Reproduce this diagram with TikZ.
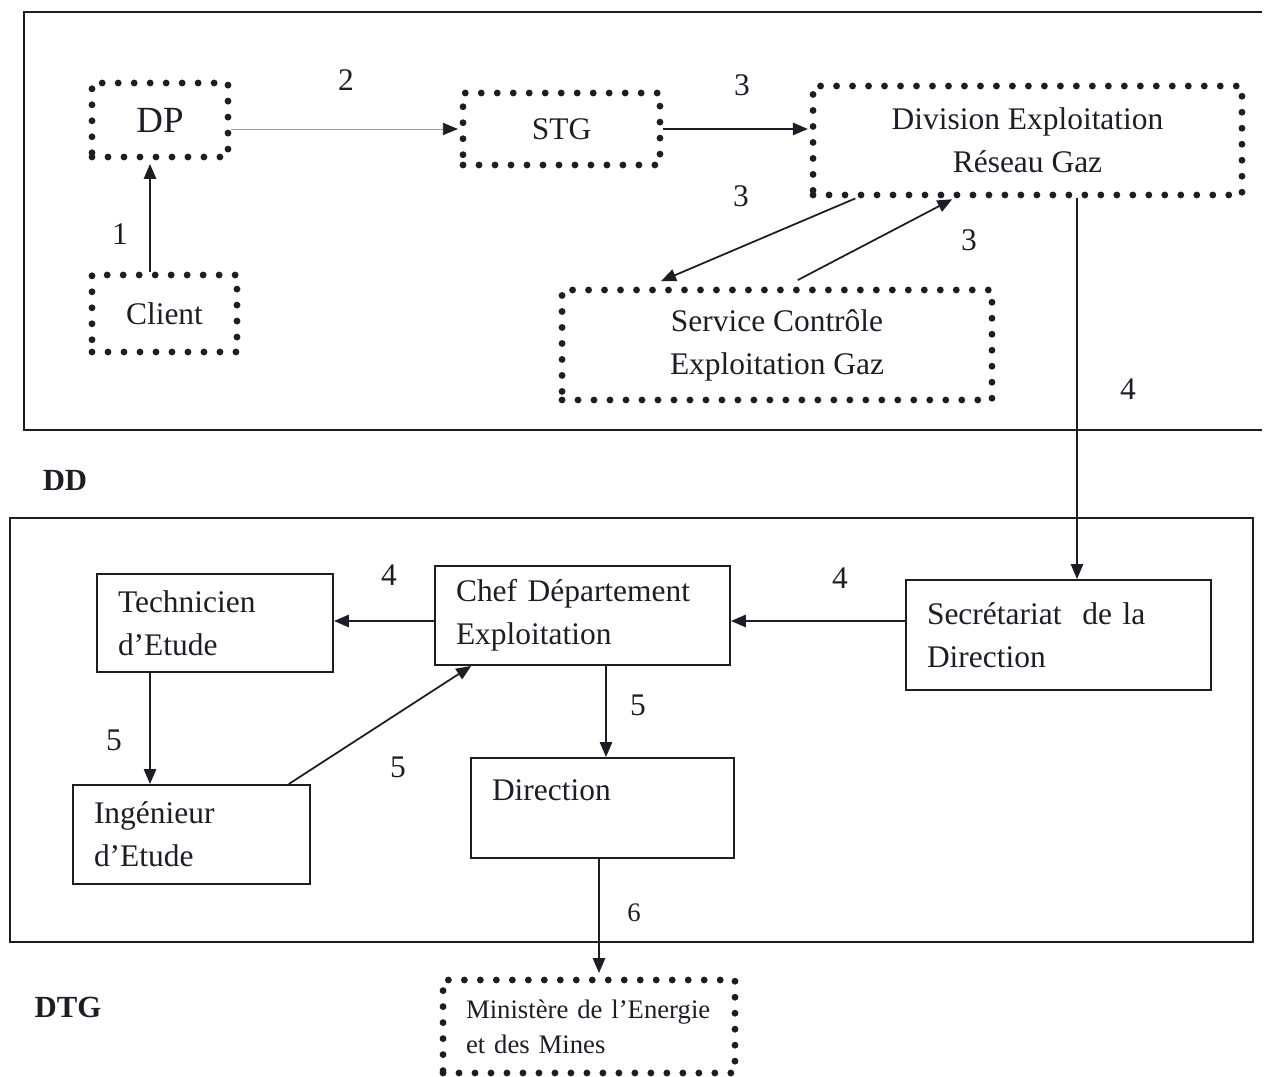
\documentclass[tikz,border=0pt]{standalone}
\usepackage{fontspec}
\setmainfont{Liberation Serif}
\usetikzlibrary{arrows.meta,calc}
\definecolor{ink}{RGB}{28,30,38}
\newcommand\dfMain{\fontsize{17.9}{24.4}\selectfont}
\newcommand\dfBig{\fontsize{21}{24}\selectfont}
\newcommand\dfSmall{\fontsize{15.2}{20}\selectfont}
\newcommand\dfHead{\fontsize{17.5}{20}\selectfont\bfseries}
\begin{document}
\begin{tikzpicture}[x=0.02cm,y=-0.02cm,
  every node/.style={text=ink},
  dotbox/.style={draw=ink, line width=3.9pt, line cap=round,
    dash pattern=on 0pt off 9.1pt, inner sep=0pt, align=center, font=\dfMain},
  solidbox/.style={draw=ink, line width=1.1pt, inner xsep=0.42cm,
    inner ysep=0pt, align=left, font=\dfMain},
  frame/.style={draw=ink, line width=1.5pt},
  arr/.style={draw=ink, line width=1pt, -{Triangle[length=8.5pt,width=7pt]}},
  thinarr/.style={draw=ink!45, line width=0.45pt, -{Triangle[length=8.5pt,width=7pt,color=ink]}},
  num/.style={font=\dfMain, inner sep=0pt},
  head/.style={font=\dfHead, inner sep=0pt}]
\useasboundingbox (0,0) rectangle (1270,1077);

% frames of the two departments
\draw[frame] (1262,12) -- (24,12) -- (24,430) -- (1262,430);
\draw[frame] (10,518) rectangle (1253,942);
\node[head] (dd) at (65,480) {DD};
\node[head] (dtg) at (68,1007) {DTG};

% DD: dotted units
\node[dotbox, font=\dfBig, minimum width=2.72cm, minimum height=1.48cm] (dp) at (160,120) {DP};
\node[dotbox, minimum width=2.9cm, minimum height=1.54cm] (cl) at (164.5,313.5) {Client};
\node[dotbox, minimum width=3.94cm, minimum height=1.44cm] (stg) at (561.5,129) {STG};
\node[dotbox, minimum width=8.58cm, minimum height=2.18cm] (div) at (1027.5,140.5) {Division Exploitation\\Réseau Gaz};
\node[dotbox, minimum width=8.6cm, minimum height=2.2cm] (svc) at (777,345) {Service Contrôle\\Exploitation Gaz};

% DTG: solid units
\node[solidbox, text width=3.88cm, minimum height=1.96cm] (tech) at (215,623) {Technicien\\d’Etude};
\node[solidbox, text width=5.06cm, minimum height=1.98cm] (chef) at (582.5,615.5) {Chef Département\\Exploitation};
\node[solidbox, text width=5.26cm, minimum height=2.2cm] (sec) at (1058.5,635) {Secrétariat\ \ de la\\Direction};
\node[solidbox, text width=3.9cm, minimum height=1.98cm] (ing) at (191.5,834.5) {Ingénieur\\d’Etude};
\node[solidbox, text width=4.42cm, text height=0.84cm, text depth=1.16cm] (dir) at (602.5,808) {Direction};

% ministry
\node[dotbox, font=\dfSmall, align=left, inner xsep=0.46cm, text width=4.92cm,
  minimum height=1.86cm] (min) at (589,1026.5) {Ministère de l’Energie\\et des Mines};

% helper lines for straight connectors
\coordinate (v1) at (150,0);
\coordinate (v4) at (1077,0);
\coordinate (h4) at (0,621);
\coordinate (v5) at (150,0);
\coordinate (v5c) at (606,0);
\coordinate (v6) at (599,0);

% connectors
\draw[arr, shorten >=2pt] (cl.north -| v1) -- (dp.south -| v1);
\draw[thinarr, shorten >=1pt] (stg.west -| dp.east) -- (stg.west);
\draw[arr, shorten >=1pt] (stg.east) -- (stg.east -| div.west);
\draw[arr, shorten >=8pt] ($(div.south west)!0.105!(div.south east)$) -- ($(svc.north west)!0.205!(svc.north east)$);
\draw[arr, shorten <=8pt, shorten >=1pt] ($(svc.north west)!0.519!(svc.north east)$) -- ($(div.south west)!0.331!(div.south east)$);
\draw[arr] (div.south -| v4) -- (sec.north -| v4);
\draw[arr] (sec.west |- h4) -- (chef.east |- h4);
\draw[arr] (chef.west |- h4) -- (tech.east |- h4);
\draw[arr] (tech.south -| v5) -- (ing.north -| v5);
\draw[arr] ($(ing.north west)!0.907!(ing.north east)$) -- ($(chef.south west)!0.125!(chef.south east)$);
\draw[arr] (chef.south -| v5c) -- (dir.north -| v5c);
\draw[arr, shorten >=2pt] (dir.south -| v6) -- (min.north -| v6);

% step numbers
\node[num] (l1) at (120,234) {1};
\node[num] (l2) at (346,80) {2};
\node[num] (l3a) at (742,85) {3};
\node[num] (l3b) at (741,196) {3};
\node[num] (l3c) at (969,240) {3};
\node[num] (l4a) at (1128,389) {4};
\node[num] (l4b) at (840,578) {4};
\node[num] (l4c) at (389,575) {4};
\node[num] (l5a) at (114,740) {5};
\node[num] (l5b) at (398,767) {5};
\node[num] (l5c) at (638,705) {5};
\node[num, font=\dfSmall] (l6) at (634,913) {6};
\end{tikzpicture}
\end{document}
